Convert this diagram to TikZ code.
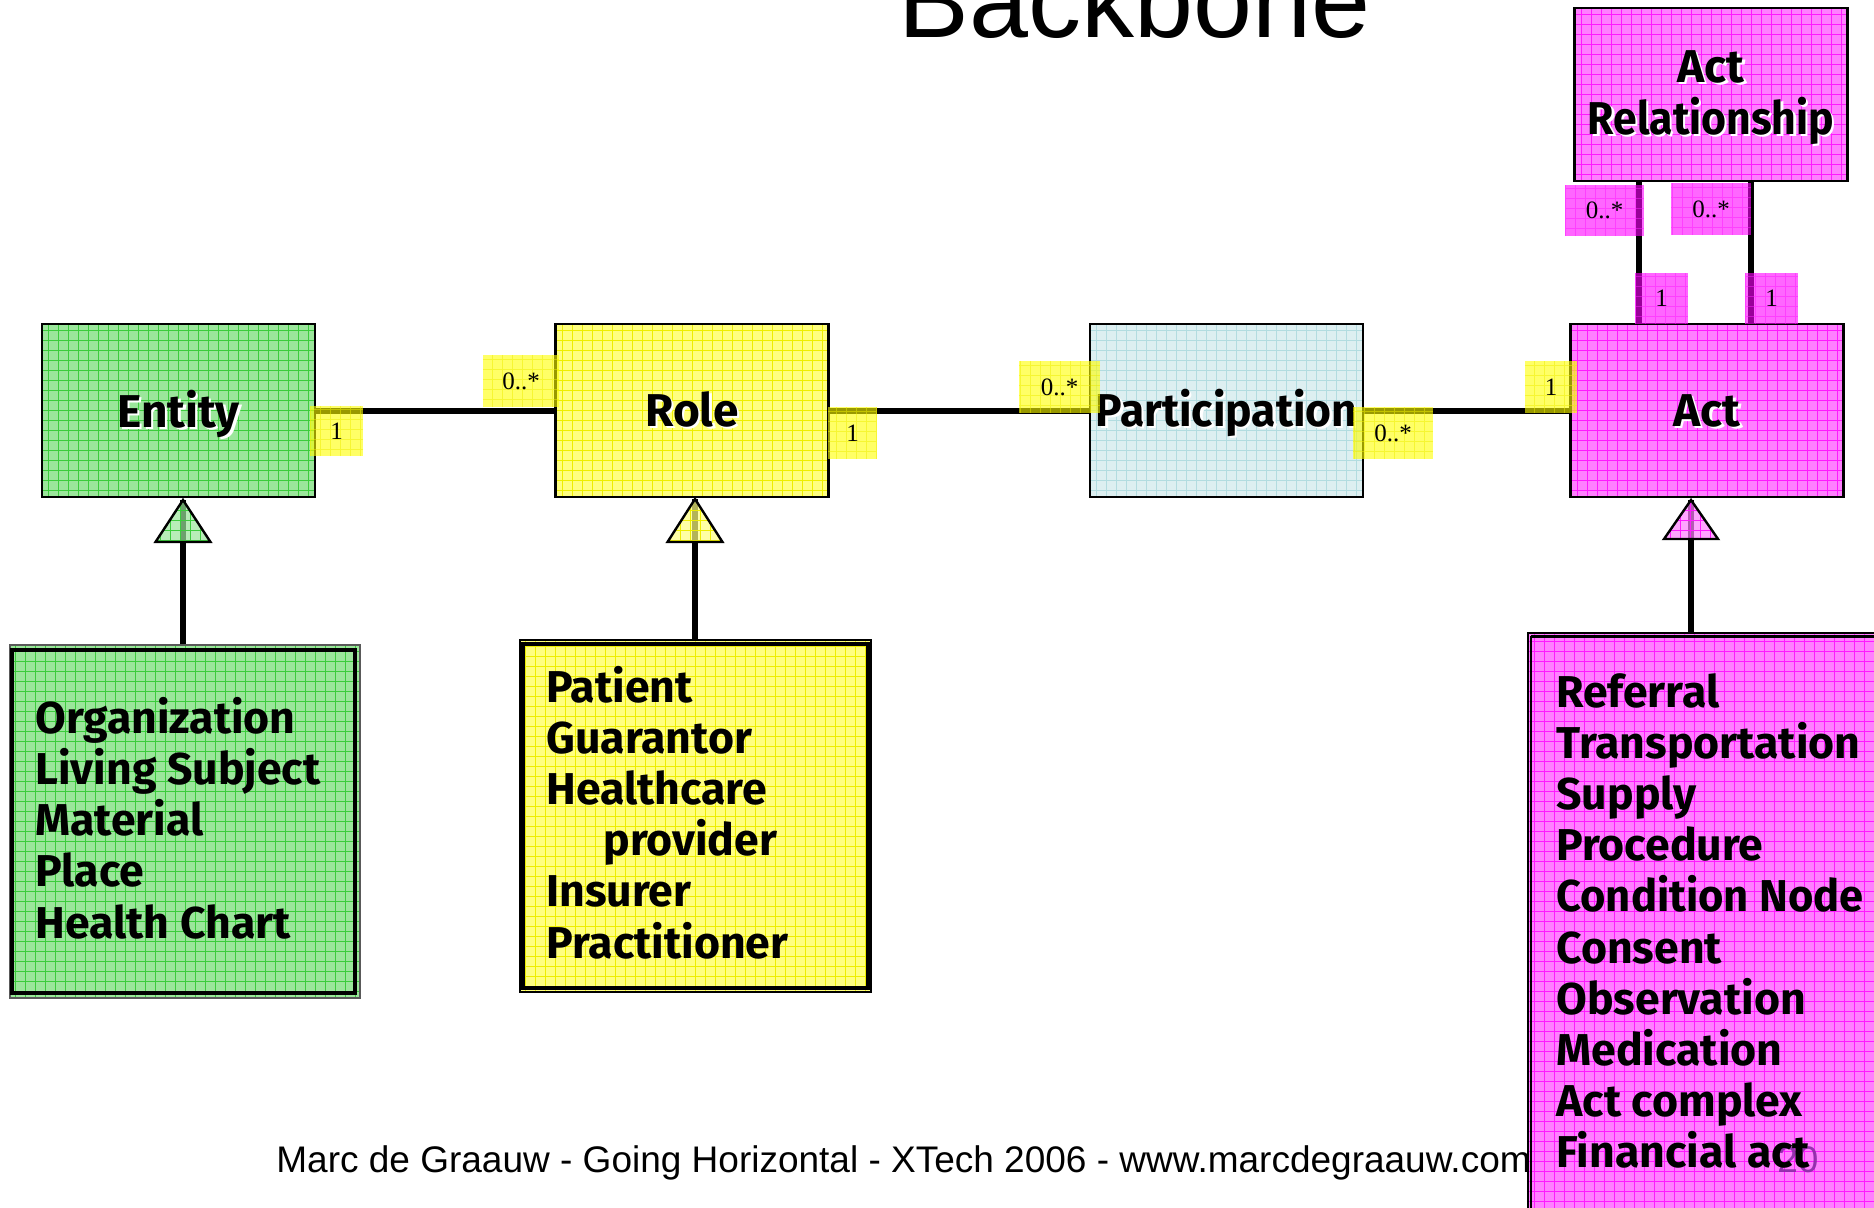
\documentclass[tikz,border=0pt]{standalone}
\usepackage{fontspec}
\setmainfont{Liberation Sans}
\newfontfamily\hand{Fira Sans}
\newfontfamily\numfont{Liberation Serif}
\usetikzlibrary{calc}

\definecolor{grn}{HTML}{9BE69B}
\definecolor{grnline}{HTML}{3CCC3C}
\definecolor{yel}{HTML}{FFFF80}
\definecolor{yelline}{HTML}{EEEE00}
\definecolor{yelfull}{HTML}{FFFF00}
\definecolor{blu}{HTML}{DDEFF1}
\definecolor{bluline}{HTML}{B2DCE0}
\definecolor{mag}{HTML}{FF80FF}
\definecolor{magline}{HTML}{FF1AFF}
\definecolor{magfull}{HTML}{FF00FF}
\definecolor{pagenum}{HTML}{8A2BA6}

% heading text with a small white drop shadow
\newcommand\shd[1]{\leavevmode\rlap{\kern1.2pt\raisebox{-1.2pt}{\color{white}#1}}#1}

\begin{document}
\begin{tikzpicture}[x=0.5pt,y=-0.5pt,
  hatch/.style={path picture={\draw[#1,line width=0.45pt,step=5pt]
      (path picture bounding box.south west) grid (path picture bounding box.north east);}},
  cls/.style={rectangle, draw=black, line width=1.2pt, inner sep=0pt,
      minimum width=136.5pt, minimum height=86.5pt},
  clsG/.style={cls, fill=grn, hatch=grnline},
  clsY/.style={cls, fill=yel, hatch=yelline},
  clsB/.style={cls, fill=blu, hatch=bluline},
  clsM/.style={cls, fill=mag, hatch=magline},
  head/.style={anchor=base, inner sep=0pt, font=\hand\bfseries\fontsize{23}{25.5}\selectfont},
  conn/.style={draw=black, line width=3pt},
  mult/.style={rectangle, inner sep=0pt, fill opacity=0.6, text opacity=1,
      font=\numfont\fontsize{12.5}{14}\selectfont},
  multY/.style={mult, fill=yelfull, hatch={yelline,draw opacity=0.5}},
  multM/.style={mult, fill=magfull, hatch={magline,draw opacity=0.5}},
  item/.style={anchor=base west, inner sep=0pt,
      font=\hand\bfseries\fontsize{22.3}{24}\selectfont},
  gen/.style={draw=black, line width=1.2pt, fill opacity=0.7},
]
\useasboundingbox (0,0) rectangle (1874,1207);
\fill[white] (0,0) rectangle (1874,1207);

% title
\node[anchor=base, inner sep=0pt] (title) at (1134.5,37) {\fontsize{53}{60}\selectfont Backbone};

% footer (partly covered by the Act subclass box)
\node[anchor=base west, inner sep=0pt] (footer) at (276,1172)
  {\fontsize{18.5}{22}\selectfont Marc de Graauw - Going Horizontal - XTech 2006 - www.marcdegraauw.com};

% main classes
\node[clsG] (entity) at (178.5,410.5) {};
\node[clsY] (role)   at (692,410.5)   {};
\node[clsB] (part)   at (1226.5,410.5) {};
\node[clsM] (act)    at (1707,410.5)  {};
\node[clsM] (actrel) at (1711,94.5)   {};
\node[head] (entity-t) at ($(entity.center)+(0,17)$) {\shd{Entity}};
\node[head] (role-t)   at ($(role.center)+(0,15.5)$) {\shd{Role}};
\node[head] (part-t)   at ($(part.center)+(0,15.5)$) {\scalebox{0.965}[1]{\shd{Participation}}};
\node[head] (act-t)    at ($(act.center)+(0,15.5)$)  {\shd{Act}};
\node[head] (actrel-t1) at ($(actrel.center)+(0,-12)$) {\shd{Act}};
\node[head] (actrel-t2) at ($(actrel.center)+(0,39.5)$) {\scalebox{0.93}[1]{\shd{Relationship}}};

% associations
\draw[conn] (entity.east) -- (role.west);
\draw[conn] (role.east) -- (part.west);
\draw[conn] (part.east) -- (act.west);
\coordinate (arl) at (1639,0);
\coordinate (arr) at (1751,0);
\draw[conn] (actrel.south -| arl) -- (act.north -| arl);
\draw[conn] (actrel.south -| arr) -- (act.north -| arr);

% multiplicities
\node[multY, minimum width=26.5pt, minimum height=25pt] (m-er1) at (336.5,431) {1};
\node[multY, minimum width=38pt, minimum height=26pt]   (m-er2) at (521,381) {0..*};
\node[multY, minimum width=24.5pt, minimum height=26pt] (m-rp1) at (852.5,433) {1};
\node[multY, minimum width=40.5pt, minimum height=26pt] (m-rp2) at (1059.5,387) {0..*};
\node[multY, minimum width=40pt, minimum height=26pt]   (m-pa1) at (1393,433) {0..*};
\node[multY, minimum width=26pt, minimum height=26pt]   (m-pa2) at (1551,387) {1};
\node[multM, minimum width=39.5pt, minimum height=25.5pt] (m-ar1) at (1604.5,210.5) {0..*};
\node[multM, minimum width=40pt, minimum height=26pt]     (m-ar2) at (1711,209) {0..*};
\node[multM, minimum width=26.5pt, minimum height=25.5pt] (m-ar3) at (1661.5,298.5) {1};
\node[multM, minimum width=26.5pt, minimum height=25.5pt] (m-ar4) at (1771.5,298.5) {1};

% subclass boxes
\node[rectangle, draw=black!65, line width=0.8pt, fill=grn, hatch=grnline, inner sep=0pt,
      minimum width=175pt, minimum height=176.5pt] (entsub) at (185,821.5) {};
\draw[line width=2pt] ([shift={(3,6)}]entsub.north west) rectangle ([shift={(-6,-6)}]entsub.south east);

\node[rectangle, draw=black, line width=1.2pt, fill=yel, hatch=yelline, inner sep=0pt,
      minimum width=175.5pt, minimum height=176pt] (rolesub) at (695.5,816) {};
\draw[line width=1.8pt] ([shift={(4,5)}]rolesub.north west) rectangle ([shift={(-4,-5)}]rolesub.south east);

\node[rectangle, draw=black, line width=1.2pt, fill=mag, hatch=magline, inner sep=0pt,
      minimum width=186pt, minimum height=298.5pt] (actsub) at (1714,931.5) {};
\draw[line width=1.2pt] ([shift={(4,4.5)}]actsub.north west) -- ([shift={(4,0)}]actsub.south west);
\draw[line width=1.2pt] ([shift={(4,4.5)}]actsub.north west) -- ([shift={(0,4.5)}]actsub.north east);
\node[text=pagenum, text opacity=0.9, anchor=base west, inner sep=0pt] (pageno) at (1777,1172)
  {\fontsize{18.5}{22}\selectfont 20};

% subclass lists
\foreach \t [count=\i from 0] in {Organization, Living Subject, Material, Place, Health Chart}
  \node[item] (ent-\i) at (35,{733+51.3*\i}) {\t};
\foreach \t [count=\i from 0] in {Patient, Guarantor, Healthcare, \hspace{28.5pt}provider, Insurer, Practitioner}
  \node[item] (role-\i) at (546,{702+51.2*\i}) {\t};
\foreach \t [count=\i from 0] in {Referral, Transportation, Supply, Procedure, {\scalebox{0.975}[1]{Condition Node}},
    Consent, Observation, Medication, Act complex, Financial act}
  \node[item] (act-\i) at (1556,{707+51.2*\i}) {\t};

% generalisation arrows
\coordinate (entapex) at (183,500);
\coordinate (roleapex) at (695,499);
\coordinate (actapex) at (1691,500);
\draw[conn] (entsub.north -| entapex) -- (entapex);
\draw[conn] (rolesub.north -| roleapex) -- (roleapex);
\draw[conn] (actsub.north -| actapex) -- (actapex);
\path[gen, fill=grn, hatch=grnline] (entapex) -- ++(-27.5,42) -- ++(55,0) -- cycle;
\path[gen, fill=yel, hatch=yelline] (roleapex) -- ++(-27.5,43) -- ++(55,0) -- cycle;
\path[gen, fill=mag, hatch=magline] (actapex) -- ++(-27,39) -- ++(54,0) -- cycle;
\end{tikzpicture}
\end{document}
